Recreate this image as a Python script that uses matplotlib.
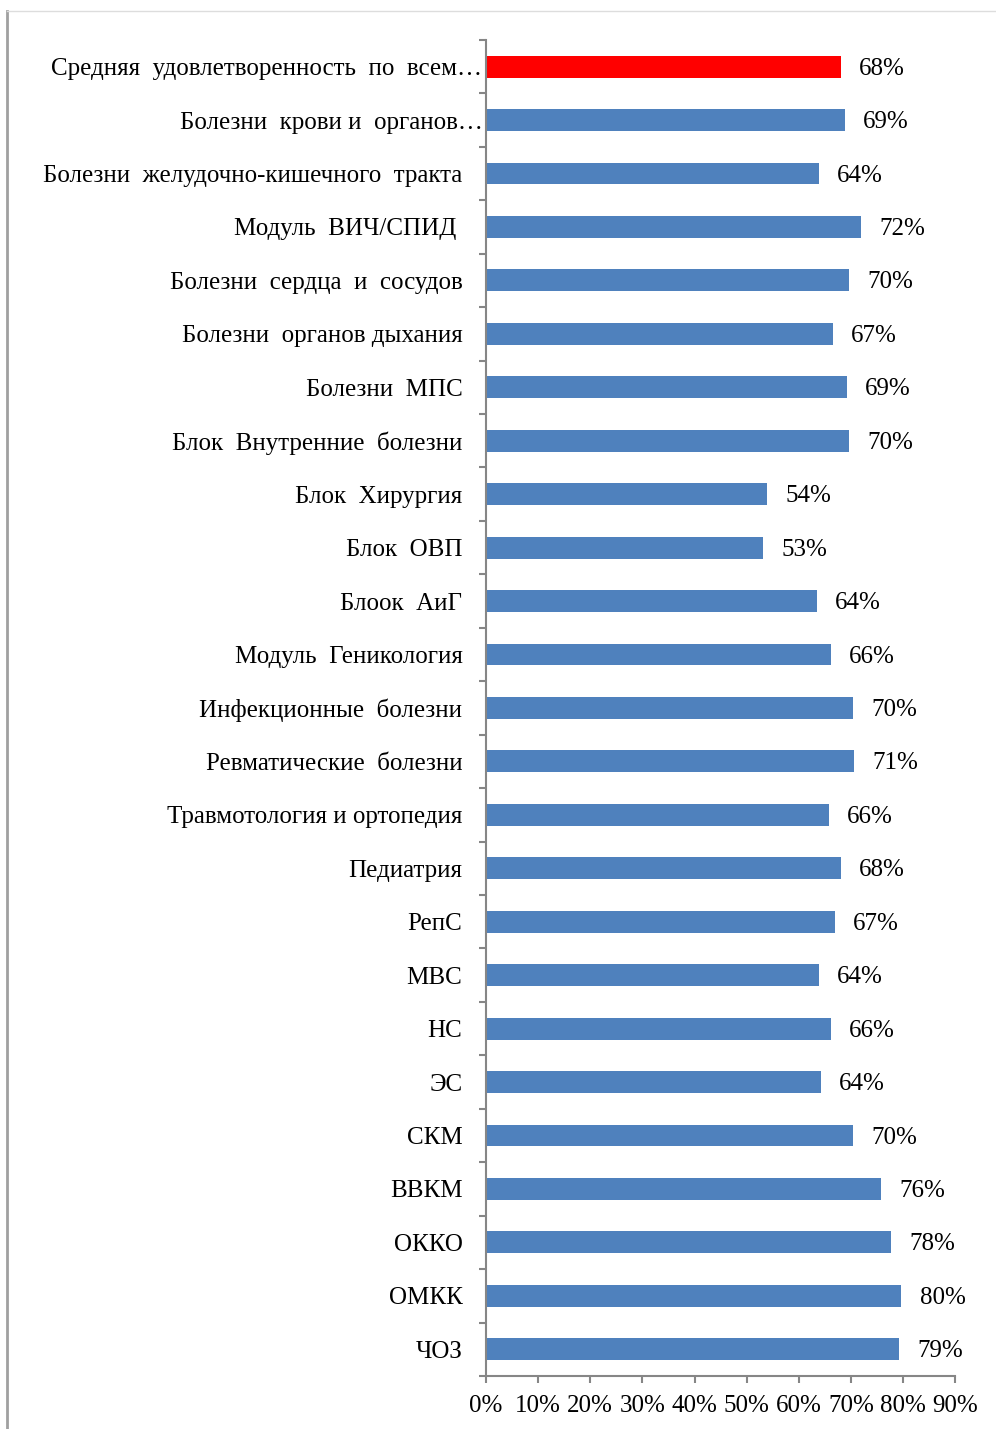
import matplotlib.pyplot as plt
import matplotlib.transforms as mtransforms
from matplotlib.lines import Line2D

plt.rcParams['font.family'] = ['Liberation Serif', 'DejaVu Serif']

categories = ["Средняя  удовлетворенность  по  всем…",
              "Болезни  крови и  органов…",
              "Болезни  желудочно-кишечного  тракта",
              "Модуль  ВИЧ/СПИД ",
              "Болезни  сердца  и  сосудов",
              "Болезни  органов дыхания",
              "Болезни  МПС",
              "Блок  Внутренние  болезни",
              "Блок  Хирургия",
              "Блок  ОВП",
              "Блоок  АиГ",
              "Модуль  Геникология",
              "Инфекционные  болезни",
              "Ревматические  болезни",
              "Травмотология и ортопедия",
              "Педиатрия",
              "РепС",
              "МВС",
              "НС",
              "ЭС",
              "СКМ",
              "ВВКМ",
              "ОККО",
              "ОМКК",
              "ЧОЗ"]
values = [68.1, 68.9, 63.9, 72.0, 69.7, 66.6, 69.3, 69.7, 53.9, 53.2,
          63.5, 66.2, 70.4, 70.6, 65.8, 68.1, 67.0, 63.9, 66.2, 64.3,
          70.4, 75.8, 77.7, 79.7, 79.3]
colors = ["#FF0000"] + ["#4F81BD"] * (len(values) - 1)

fig = plt.figure(figsize=(9.96, 14.29), dpi=100)
ax = fig.add_axes([0.488, 0.0371, 0.471, 0.935])

y = list(range(len(categories)))
ax.barh(y, values, height=0.41, color=colors)
for yi, v in zip(y, values):
    ax.annotate(f"{v:.0f}%", (v, yi), xytext=(13, -1.5), textcoords="offset points",
                va="center", ha="left", fontsize=18)

ax.set_xlim(0, 90)
ax.set_ylim(len(categories) - 0.5, -0.5)
ax.set_xticks(range(0, 91, 10))
ax.set_xticklabels([f"{t}%" for t in range(0, 91, 10)], fontsize=18)
ax.set_yticks(y)
ax.set_yticklabels(categories, fontsize=18)
ax.set_yticks([i - 0.5 for i in range(len(categories) + 1)], minor=True)
ax.tick_params(axis="y", which="major", length=0, pad=17)
ax.tick_params(axis="y", which="minor", length=5, color="#868686", width=1.5)
ax.tick_params(axis="x", length=5, color="#868686", width=1.5, pad=9)

# truncated labels run right up to the axis
for lab in ax.get_yticklabels()[:2]:
    lab.set_transform(lab.get_transform() +
                      mtransforms.ScaledTranslation(0.2, 0, fig.dpi_scale_trans))

for s in ["top", "right"]:
    ax.spines[s].set_visible(False)
for s in ["left", "bottom"]:
    ax.spines[s].set_color("#868686")
    ax.spines[s].set_linewidth(1.5)

# outer frame lines
fig.add_artist(Line2D([0.007, 0.007], [0.0, 0.992], color="#A0A0A0", lw=2.0,
                      transform=fig.transFigure))
fig.add_artist(Line2D([0.007, 1.0], [0.992, 0.992], color="#DDDDDD", lw=1.0,
                      transform=fig.transFigure))

fig.savefig("out.png", dpi=100)
